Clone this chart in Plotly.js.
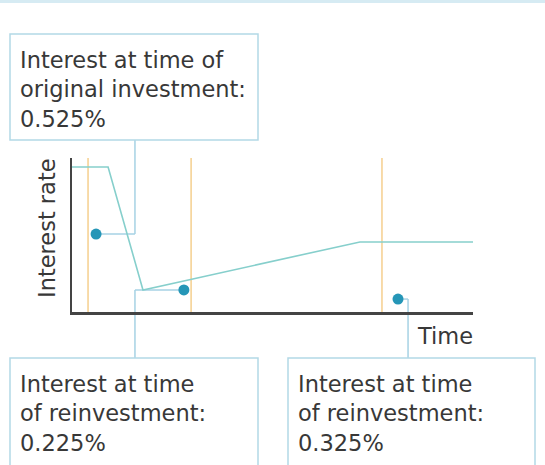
<!DOCTYPE html>
<html>
<head>
<meta charset="utf-8">
<script src="https://cdn.plot.ly/plotly-3.0.1.min.js"></script>
<style>html,body{margin:0;padding:0;background:#fff;}#chart{width:545px;height:465px;}</style>
</head>
<body>
<div id="chart"></div>
<script>
// ---- data ----
const rateTime = [0, 9, 17.7, 71.8, 100];
const rateLevel = [9.42, 9.42, 1.43, 4.55, 4.55];
const investTimes = [4.0, 29.7, 77.3];          // orange vertical lines
const dotTime = [6.0, 27.9, 81.3];
const dotLevel = [5.06, 1.43, 0.84];
const boxTexts = [
  "Interest at time of<br>original investment:<br>0.525%",
  "Interest at time<br>of reinvestment:<br>0.225%",
  "Interest at time<br>of reinvestment:<br>0.325%"
];
const xLabel = "Time";
const yLabel = "Interest rate";

// ---- layout helpers (pixel -> paper) ----
const W = 545, H = 465, L = 72, R = 473, T = 158, B = 312;
const px = p => (p - L) / (R - L);
const py = p => (B - p) / (B - T);
const fontFam = "'DejaVu Sans', sans-serif";
const fs = 22.5;
const textCol = "#383838";
const boxCol = "#b3d9e6";
const connCol = "#a6d2e4";

const traces = [];
// orange verticals
const vx = [], vy = [];
investTimes.forEach(t => { vx.push(t, t, null); vy.push(0, 10, null); });
traces.push({x: vx, y: vy, mode: "lines", line: {color: "#f5cf8e", width: 1.5}, hoverinfo: "skip", showlegend: false});
// interest rate line
traces.push({x: rateTime, y: rateLevel, mode: "lines", line: {color: "#86cfcc", width: 1.6}, showlegend: false});

// connectors
const joints = [15.7, 15.7, 83.8];
const boxEdge = [py(140), py(358), py(358)];
const shapes = [];
// top border band
shapes.push({type: "rect", xref: "paper", yref: "paper", x0: px(0), x1: px(W), y0: py(3), y1: py(0), fillcolor: "#d6ebf3", line: {width: 0}});
// boxes
const boxes = [[10, 34, 258, 140], [10, 358, 258, 470], [288, 358, 535, 470]];
boxes.forEach(b => shapes.push({type: "rect", xref: "paper", yref: "paper", x0: px(b[0]), x1: px(b[2]), y0: py(b[3]), y1: py(b[1]), line: {color: boxCol, width: 1.5}, fillcolor: "rgba(0,0,0,0)"}));
dotTime.forEach((t, i) => {
  shapes.push({type: "line", layer: "below", xref: "x", yref: "y", x0: t, x1: joints[i], y0: dotLevel[i], y1: dotLevel[i], line: {color: connCol, width: 1.5}});
  const yPaper = dotLevel[i] / 10;
  shapes.push({type: "line", layer: "below", xref: "x", yref: "paper", x0: joints[i], x1: joints[i], y0: yPaper, y1: boxEdge[i], line: {color: connCol, width: 1.5}});
});

// dots
traces.push({x: dotTime, y: dotLevel, mode: "markers", marker: {color: "#2596b7", size: 11}, cliponaxis: false, showlegend: false});

const annX = [px(18), px(18), px(296)];
const annY = [py(45), py(369), py(369)];
const annotations = boxTexts.map((t, i) => ({
  text: t, xref: "paper", yref: "paper", x: annX[i], y: annY[i], xanchor: "left", yanchor: "top",
  align: "left", showarrow: false, font: {family: fontFam, size: fs, color: textCol}
}));
annotations.push({text: xLabel, xref: "paper", yref: "paper", x: px(475), y: py(336), xanchor: "right", yanchor: "middle", showarrow: false, font: {family: fontFam, size: fs, color: textCol}});
annotations.push({text: yLabel, xref: "paper", yref: "paper", x: px(47), y: py(228), xanchor: "center", yanchor: "middle", textangle: -90, showarrow: false, font: {family: fontFam, size: fs, color: textCol}});

const layout = {
  width: W, height: H,
  margin: {l: L, r: W - R, t: T, b: H - B, pad: 0},
  paper_bgcolor: "#ffffff", plot_bgcolor: "#ffffff",
  showlegend: false,
  xaxis: {range: [0, 100], showline: true, linecolor: "#444444", linewidth: 2.5, showgrid: false, zeroline: false, showticklabels: false, ticks: "", fixedrange: true},
  yaxis: {range: [0, 10], showline: true, linecolor: "#444444", linewidth: 2.5, showgrid: false, zeroline: false, showticklabels: false, ticks: "", fixedrange: true},
  shapes: shapes,
  annotations: annotations
};
Plotly.newPlot("chart", traces, layout, {displayModeBar: false, staticPlot: true});
</script>
</body>
</html>
